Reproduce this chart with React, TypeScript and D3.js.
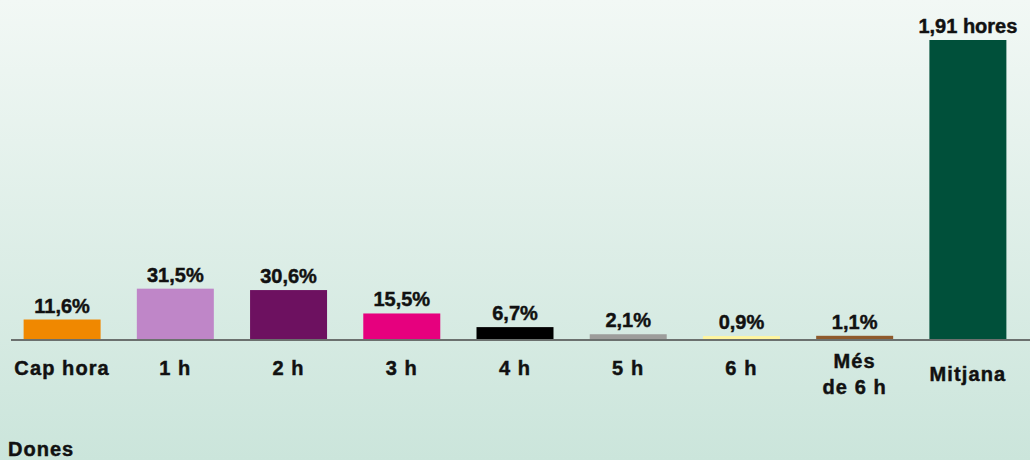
import React from "react";
import * as d3 from "d3";

const categories = ["Cap hora", "1 h", "2 h", "3 h", "4 h", "5 h", "6 h", "Més de 6 h", "Mitjana"];
const categoryLines = [["Cap hora"], ["1 h"], ["2 h"], ["3 h"], ["4 h"], ["5 h"], ["6 h"], ["Més", "de 6 h"], ["Mitjana"]];
const percentValues = [11.6, 31.5, 30.6, 15.5, 6.7, 2.1, 0.9, 1.1];
const averageHours = 1.91;
const valueLabels = ["11,6%", "31,5%", "30,6%", "15,5%", "6,7%", "2,1%", "0,9%", "1,1%", "1,91 hores"];
const barColors = ["#f08800", "#bf86c8", "#6d1160", "#e6007e", "#000000", "#9d9d9b", "#fff59e", "#8f5a2c", "#00503a"];
const groupLabel = "Dones";

const W = 1030;
const H = 460;
const barBase = 339;
const axisY = 340;

export default function App() {
  const x = d3.scaleBand<string>().domain(categories).range([5.5, 1024.5]).paddingInner(0.32).paddingOuter(0.16);
  const yPct = d3.scaleLinear().domain([0, 100]).range([337.5, 337.5 - 155]);
  const yAvg = d3.scaleLinear().domain([0, averageHours]).range([barBase, 40]);
  const font = "'Liberation Sans', Arial, Helvetica, sans-serif";

  const bars = categories.map((c, i) => {
    const isAvg = i === categories.length - 1;
    const top = isAvg ? yAvg(averageHours) : yPct(percentValues[i]);
    return { c, i, isAvg, top, x0: x(c) as number };
  });

  const textStyle = { stroke: "#111", strokeWidth: 0.45 };

  return (
    <svg width={W} height={H} style={{ position: "absolute", left: 0, top: 0 }} fontFamily={font}>
      <defs>
        <linearGradient id="bg" x1="0" y1="0" x2="0" y2="1">
          <stop offset="0%" stopColor="#f2f8f5" />
          <stop offset="100%" stopColor="#cbe5db" />
        </linearGradient>
      </defs>
      <rect x={0} y={0} width={W} height={H} fill="url(#bg)" />
      {bars.map((b) => (
        <rect key={b.c} x={b.x0} y={b.top} width={x.bandwidth()} height={barBase - b.top} fill={barColors[b.i]} />
      ))}
      <line x1={11} x2={W} y1={axisY} y2={axisY} stroke="#474747" strokeWidth={1.6} />
      {bars.map((b) => {
        const ly = b.isAvg ? b.top - 7 : Math.min(b.top - 7, 330);
        return (
          <text key={"v" + b.c} x={b.x0 + x.bandwidth() / 2} y={ly} textAnchor="middle" fontSize={20} fontWeight="bold" fill="#111" style={textStyle}>
            {valueLabels[b.i]}
          </text>
        );
      })}
      {bars.map((b) => {
        const lines = categoryLines[b.i];
        const cx = b.x0 + x.bandwidth() / 2;
        const y0 = lines.length > 1 ? 368 : b.isAvg ? 381 : 375;
        return (
          <text key={"c" + b.c} x={cx} y={y0} textAnchor="middle" fontSize={20} fontWeight="bold" letterSpacing={1.1} fill="#111" style={textStyle}>
            {lines.map((l, k) => (
              <tspan key={k} x={cx} y={y0 + k * 26}>{l}</tspan>
            ))}
          </text>
        );
      })}
      <text x={8} y={456} fontSize={20} fontWeight="bold" letterSpacing={1} fill="#111" style={textStyle}>{groupLabel}</text>
    </svg>
  );
}
